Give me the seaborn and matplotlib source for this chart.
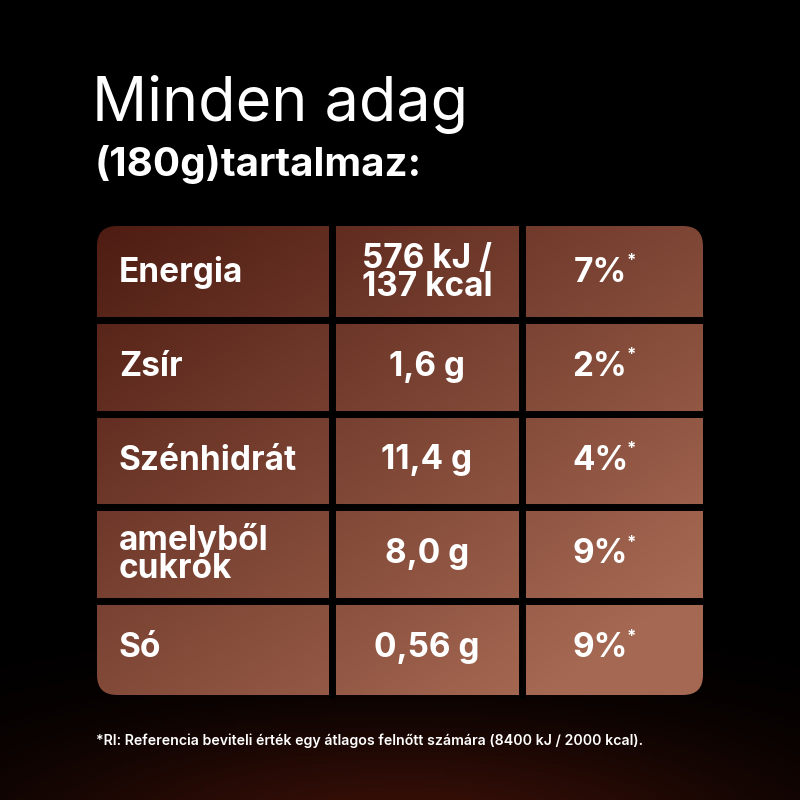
import matplotlib.pyplot as plt
import seaborn as sns
import numpy as np
from matplotlib.patches import FancyBboxPatch

labels = ['Energia', 'Zsír', 'Szénhidrát', 'amelyből\ncukrok', 'Só']
amounts = ['576 kJ /\n137 kcal', '1,6 g', '11,4 g', '8,0 g', '0,56 g']
percents = ['7%', '2%', '4%', '9%', '9%']

sns.set_theme(style='white')
plt.rcParams['font.family'] = ['Inter', 'DejaVu Sans']

fig = plt.figure(figsize=(8, 8), dpi=100)
ax = fig.add_axes([0, 0, 1, 1])
ax.set_xlim(0, 800)
ax.set_ylim(800, 0)
ax.axis('off')
fig.patch.set_facecolor('black')

# faint red glow at the bottom
yy, xx = np.mgrid[0:800:4, 0:800:4]
glow = np.exp(-(((xx - 400) / 380) ** 2 + ((yy - 830) / 110) ** 2))
bg = np.zeros(glow.shape + (3,))
bg[..., 0] = 0.22 * glow
bg[..., 1] = 0.06 * glow
bg[..., 2] = 0.03 * glow
ax.imshow(bg, extent=(0, 800, 800, 0), zorder=0)

# table area
x0, x1, y0, y1 = 97, 703, 226, 695
col_edges = [97, 332, 522, 703]
n = len(labels)
row_h = (y1 - y0) / n

gy, gx = np.mgrid[0:1:200j, 0:1:200j]
t = np.clip(0.55 * gx + 0.6 * gy, 0, 1)[..., None]
c_dark = np.array([0x4e, 0x1c, 0x12]) / 255
c_light = np.array([0xa5, 0x68, 0x52]) / 255
grad = c_dark * (1 - t) + c_light * t
im = ax.imshow(grad, extent=(x0, x1, y1, y0), zorder=1)
clip = FancyBboxPatch((x0, y0), x1 - x0, y1 - y0, boxstyle='round,pad=0,rounding_size=20',
                      transform=ax.transData, facecolor='none', edgecolor='none')
ax.add_patch(clip)
im.set_clip_path(clip)

for xe in col_edges[1:-1]:
    ax.plot([xe, xe], [y0, y1], color='black', lw=5, zorder=2)
for i in range(1, n):
    ax.plot([x0, x1], [y0 + i * row_h] * 2, color='black', lw=5, zorder=2)

for i in range(n):
    yc = y0 + (i + 0.5) * row_h
    ax.text(119, yc, labels[i], color='white', fontsize=24, fontweight='bold',
            va='center', ha='left', linespacing=0.85, zorder=3)
    ax.text(427, yc, amounts[i], color='white', fontsize=24, fontweight='bold',
            va='center', ha='center', linespacing=0.85, zorder=3)
    ax.text(600, yc, percents[i], color='white', fontsize=24, fontweight='bold',
            va='center', ha='center', zorder=3)
    ax.text(627, yc - 12, '*', color='white', fontsize=12, fontweight='bold',
            va='center', ha='left', zorder=3)

ax.text(92, 104, 'Minden adag', color='white', fontsize=44, va='center', ha='left')
ax.text(95, 164, '(180g)tartalmaz:', color='white', fontsize=29, fontweight='bold',
        va='center', ha='left')
ax.text(96, 741, '*RI: Referencia beviteli érték egy átlagos felnőtt számára (8400 kJ / 2000 kcal).',
        color='white', fontsize=10.2, fontweight='semibold', va='center', ha='left')

fig.savefig('out.png', dpi=100, facecolor='black')
